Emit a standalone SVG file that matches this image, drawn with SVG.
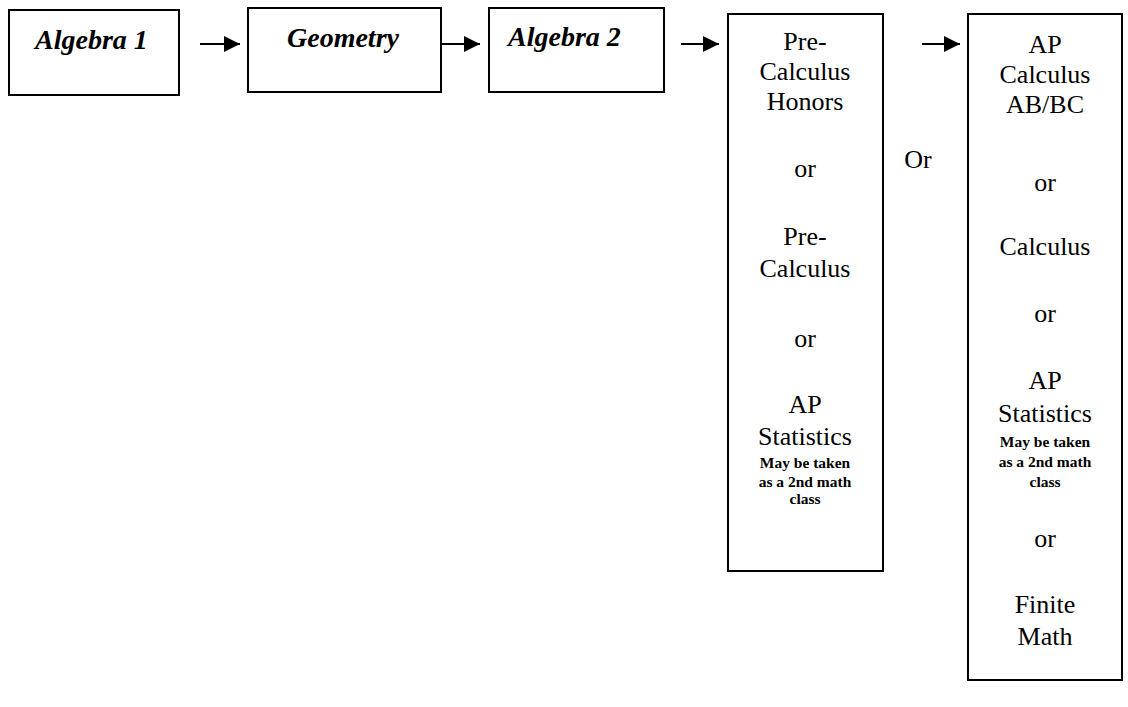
<svg xmlns="http://www.w3.org/2000/svg" width="1128" height="707" viewBox="0 0 1128 707">
<style>
.box{fill:#fff;stroke:#000;stroke-width:2}
.t{font-family:"Liberation Serif","Times New Roman",serif;font-size:26px;fill:#000;text-anchor:middle}
.bi{font-family:"Liberation Serif","Times New Roman",serif;font-size:28px;font-weight:bold;font-style:italic;fill:#000}
.s{font-family:"Liberation Serif","Times New Roman",serif;font-size:15.5px;font-weight:bold;fill:#000;text-anchor:middle}
.c{stroke:#000;stroke-width:2;fill:none}
</style>
<defs>
<marker id="ah" markerWidth="16" markerHeight="16" refX="16" refY="8" orient="auto" markerUnits="userSpaceOnUse">
<path d="M0,0 L16,8 L0,16 Z" fill="#000"/>
</marker>
</defs>
<rect width="1128" height="707" fill="#fff"/>
<g id="connectors">
<line class="c" x1="200" y1="44" x2="240" y2="44" marker-end="url(#ah)"/>
<line class="c" x1="442" y1="44" x2="480" y2="44" marker-end="url(#ah)"/>
<line class="c" x1="681" y1="44" x2="719" y2="44" marker-end="url(#ah)"/>
<line class="c" x1="922" y1="44" x2="960" y2="44" marker-end="url(#ah)"/>
</g>
<g id="algebra1">
<rect class="box" x="9" y="10" width="170" height="85"/>
<text class="bi" x="35" y="49">Algebra 1</text>
</g>
<g id="geometry">
<rect class="box" x="248" y="8" width="193" height="84"/>
<text class="bi" x="287" y="47">Geometry</text>
</g>
<g id="algebra2">
<rect class="box" x="489" y="8" width="175" height="84"/>
<text class="bi" x="508" y="46">Algebra 2</text>
</g>
<g id="or-label">
<text class="t" x="918" y="168">Or</text>
</g>
<g id="precalc">
<rect class="box" x="728" y="14" width="155" height="557"/>
<text class="t" x="805" y="50">Pre-</text>
<text class="t" x="805" y="80">Calculus</text>
<text class="t" x="805" y="110">Honors</text>
<text class="t" x="805" y="177">or</text>
<text class="t" x="805" y="245">Pre-</text>
<text class="t" x="805" y="277">Calculus</text>
<text class="t" x="805" y="347">or</text>
<text class="t" x="805" y="413">AP</text>
<text class="t" x="805" y="445">Statistics</text>
<text class="s" x="805" y="468">May be taken</text>
<text class="s" x="805" y="487">as a 2nd math</text>
<text class="s" x="805" y="504">class</text>
</g>
<g id="calc">
<rect class="box" x="968" y="14" width="154" height="666"/>
<text class="t" x="1045" y="53">AP</text>
<text class="t" x="1045" y="83">Calculus</text>
<text class="t" x="1045" y="113">AB/BC</text>
<text class="t" x="1045" y="191">or</text>
<text class="t" x="1045" y="255">Calculus</text>
<text class="t" x="1045" y="322">or</text>
<text class="t" x="1045" y="389">AP</text>
<text class="t" x="1045" y="422">Statistics</text>
<text class="s" x="1045" y="447">May be taken</text>
<text class="s" x="1045" y="467">as a 2nd math</text>
<text class="s" x="1045" y="487">class</text>
<text class="t" x="1045" y="547">or</text>
<text class="t" x="1045" y="613">Finite</text>
<text class="t" x="1045" y="645">Math</text>
</g>
</svg>
